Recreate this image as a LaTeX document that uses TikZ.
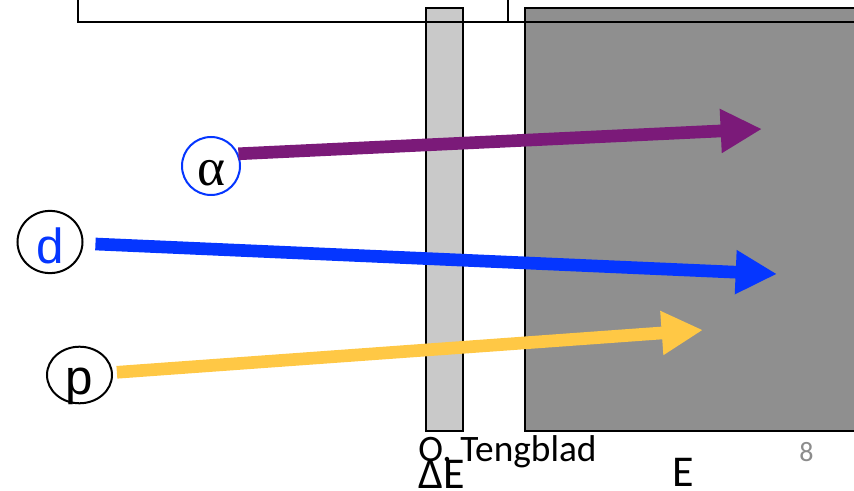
\documentclass[tikz,border=0pt]{standalone}
\usepackage{fontspec}
\setmainfont{Carlito}
\newfontfamily\arialfont{Liberation Sans}
\newfontfamily\timesfont{Liberation Serif}
\usetikzlibrary{arrows.meta,shapes.geometric}
\definecolor{ionpurple}{HTML}{7B1A79}
\definecolor{ionblue}{HTML}{0536FF}
\definecolor{ionyellow}{HTML}{FFC845}
\definecolor{thingray}{HTML}{C9C9C9}
\definecolor{thickgray}{HTML}{8F8F8F}
\definecolor{pagegray}{HTML}{8C8C8C}
\begin{document}
\begin{tikzpicture}[
  x=0.75pt, y=-0.75pt,
  det/.style   = {draw=black, line width=2pt},
  frame/.style = {draw=black, line width=1.6pt},
  part/.style  = {draw=black, line width=1.5pt, ellipse, inner sep=0pt,
                  minimum width=48.75pt, minimum height=41.5pt,
                  text depth=0pt, font=\arialfont\fontsize{37}{40}\selectfont},
  ion/.style   = {line width=9.5pt, -{Triangle[length=31pt,width=31pt]}},
]
\clip (0,0) rectangle (854,491);

% ── DETECTORS ────────────────────────────────────────────────────────────────
\draw[det, fill=thingray]  (426,8) rectangle (463,431);
\draw[det, fill=thickgray] (525,8) rectangle (870,431);

% ── TOP FRAMES (cut off) ─────────────────────────────────────────────────────
\draw[frame] (78,-20) rectangle (508,22);
\draw[frame] (508,-20) rectangle (880,22);

% ── PARTICLES ────────────────────────────────────────────────────────────────
\node[circle, draw=ionblue, line width=1.5pt, inner sep=0pt,
      minimum size=43.5pt, text height=29pt, text depth=0pt,
      font=\timesfont\fontsize{40}{42}\selectfont] (alpha) at (211,166) {α};
\node[part, text=ionblue, text height=33pt] (deut) at (50,242) {d};
\node[part, text height=30pt] (prot) at (79.5,375) {p};

\coordinate (tipA) at (762,129);
\coordinate (tipD) at (777,274);
\coordinate (tipP) at (703,330);

% ── TRACKS ───────────────────────────────────────────────────────────────────
\draw[ion, ionpurple] (alpha.24) -- (tipA);
\draw[ion, ionblue, shorten <=9pt] (deut) -- (tipD);
\draw[ion, ionyellow, shorten <=3pt] (prot) -- (tipP);

% ── LABELS ───────────────────────────────────────────────────────────────────
\node[anchor=base west, inner sep=0pt, font=\fontsize{28}{30}\selectfont]
  (author) at (418,462) {O. Tengblad};
\node[anchor=base west, inner sep=0pt, text=pagegray,
      font=\fontsize{21}{24}\selectfont] (pagenum) at (799,462) {8};
\node[anchor=base west, inner sep=0pt, font=\fontsize{33}{36}\selectfont]
  (dElabel) at (418,489) {ΔE};
\node[anchor=base west, inner sep=0pt, font=\fontsize{33}{36}\selectfont]
  (Elabel) at (672,487) {E};
\end{tikzpicture}
\end{document}
